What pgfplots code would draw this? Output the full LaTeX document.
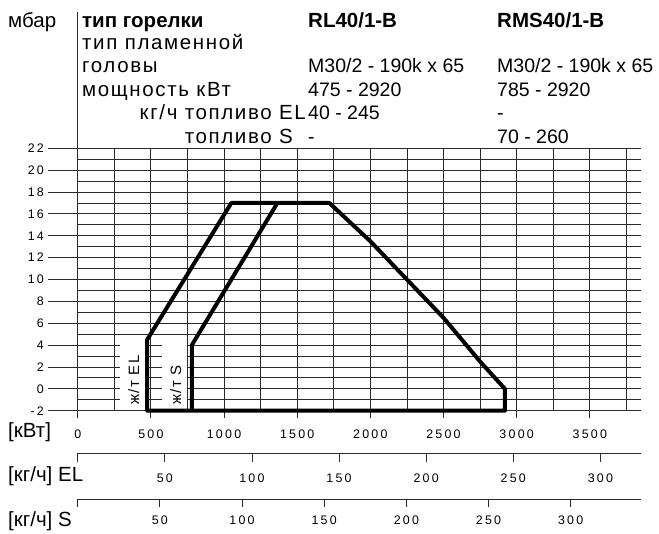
\documentclass[border=0pt]{standalone}
\usepackage{fontspec}
\setmainfont{Liberation Sans}
\newfontfamily\tickfont[LetterSpace=18]{Liberation Sans}
\newfontfamily\lblfont[LetterSpace=10]{Liberation Sans}
\newfontfamily\rowfont[LetterSpace=8]{Liberation Sans}
\usepackage{pgfplots}
\pgfplotsset{compat=1.18}
\definecolor{gridc}{HTML}{2A2A2A}

\tikzset{
  gridl/.style={gridc, line width=0.8pt},
  tickl/.style={font=\tickfont\fontsize{12.4}{13}\selectfont, text=black},
}
\pgfplotsset{
  frame/.style={at={(77.7pt,-410.7pt)}, anchor=south west, scale only axis,
    width=563.3pt, height=262.4pt, xmin=0, xmax=3850, ymin=-2, ymax=22},
}
\newcommand{\hd}[1]{\fontsize{20.5}{24}\selectfont #1}
\newcommand{\hr}[1]{\rowfont\fontsize{20.5}{24}\selectfont #1}
\newcommand{\hv}[1]{\fontsize{19.5}{24}\selectfont #1}

\begin{document}
\begin{tikzpicture}

% horizontal grid, mbar labels
\begin{axis}[frame,
  axis y line*=left, axis x line=none, y axis line style={draw=none},
  ytick={-2,0,...,22}, yticklabels={-2,0,2,4,6,8,10,12,14,16,18,20,22},
  minor ytick={-1,1,...,21}, ymajorgrids, yminorgrids,
  grid style={gridl}, tick align=outside, major tick length=29.7pt,
  minor tick length=0pt, y tick style={gridl},
  yticklabel style={tickl, anchor=east, inner sep=0pt, xshift=-4pt}]
\end{axis}

% vertical grid, kW axis and operating ranges
\begin{axis}[frame, clip=false,
  axis x line*=bottom, axis y line=none, x axis line style={draw=none},
  xtick={0,500,...,3500}, xticklabels={0,500,1000,1500,2000,2500,3000,3500},
  minor xtick={250,750,...,3750}, xmajorgrids, xminorgrids,
  grid style={gridl}, tick align=outside, major tick length=7.3pt,
  minor tick length=0pt, x tick style={gridl},
  xticklabel style={tickl, anchor=base, inner sep=0pt, yshift=-20pt}]
\fill[white] (axis cs:288,-1.93) rectangle (axis cs:460,4.4);
\fill[white] (axis cs:574,-1.93) rectangle (axis cs:745,4.4);
% RL40/1-B
\addplot[black, line width=4pt, line join=round] coordinates {
  (475,-2) (475,4.5) (1050,17) (1720,17) (2000,13.5) (2250,10)
  (2500,6.5) (2750,2.5) (2920,0) (2920,-2)
} -- cycle;
% RMS40/1-B
\addplot[black, line width=4pt, line join=round] coordinates {
  (780,-2) (780,4) (1365,17)
};
\end{axis}

% kg/h EL axis
\begin{axis}[at={(77.7pt,-453pt)}, anchor=south west, scale only axis,
  width=563.3pt, height=10pt, xmin=0, xmax=323.3, ymin=0, ymax=1,
  axis x line*=bottom, axis y line=none, x axis line style={gridl},
  xtick={0,50,...,300}, xticklabels={,50,100,150,200,250,300},
  tick align=outside, major tick length=9pt, x tick style={gridl},
  xticklabel style={tickl, anchor=base, inner sep=0pt, yshift=-20pt}]
\end{axis}

% kg/h S axis
\begin{axis}[at={(77.7pt,-499pt)}, anchor=south west, scale only axis,
  width=563.3pt, height=10pt, xmin=0, xmax=342.8, ymin=0, ymax=1,
  axis x line*=bottom, axis y line=none, x axis line style={gridl},
  xtick={0,50,...,300}, xticklabels={,50,100,150,200,250,300},
  tick align=outside, major tick length=7.5pt, x tick style={gridl},
  xticklabel style={tickl, anchor=base, inner sep=0pt, yshift=-18pt}]
\end{axis}

% separator of the header table
\draw[gridl] (77.7pt,-12pt) -- (77.7pt,-148.3pt);

% range labels
\node[rotate=90, anchor=base west, inner sep=0pt, font=\lblfont\fontsize{15}{15}\selectfont]
  at (139pt,-405pt) {ж/т EL};
\node[rotate=90, anchor=base west, inner sep=0pt, font=\lblfont\fontsize{15}{15}\selectfont]
  at (181pt,-405pt) {ж/т S};

% header
\begin{scope}[every node/.style={inner sep=0pt, anchor=base west}]
\node at (8pt,-28pt) {\hd{мбар}};
\node at (82pt,-28pt) {\hd{\bfseries тип горелки}};
\node at (308pt,-28pt) {\hd{\bfseries RL40/1-B}};
\node at (497pt,-28pt) {\hd{\bfseries RMS40/1-B}};
\node at (82pt,-49.5pt) {\hr{тип пламенной}};
\node at (82pt,-73pt) {\hr{головы}};
\node at (308pt,-73pt) {\hv{M30/2 - 190k x 65}};
\node at (497pt,-73pt) {\hv{M30/2 - 190k x 65}};
\node at (82pt,-97pt) {\hr{мощность кВт}};
\node at (308pt,-97pt) {\hv{475 - 2920}};
\node at (497pt,-97pt) {\hv{785 - 2920}};
\node[anchor=base east] at (306pt,-120pt) {\hr{кг/ч топливо EL}};
\node at (308pt,-120pt) {\hv{40 - 245}};
\node at (497pt,-120pt) {\hv{-}};
\node[anchor=base east] at (293pt,-143.3pt) {\hr{топливо S}};
\node at (308pt,-143.3pt) {\hv{-}};
\node at (497pt,-143.3pt) {\hv{70 - 260}};
% axis names at the bottom
\node at (8pt,-437.3pt) {\hd{[кВт]}};
\node at (8pt,-481.7pt) {\hd{[кг/ч] EL}};
\node at (8pt,-526.7pt) {\hd{[кг/ч] S}};
\end{scope}

\pgfresetboundingbox
\path[use as bounding box] (0pt,0pt) rectangle (659pt,-534pt);
\end{tikzpicture}
\end{document}
